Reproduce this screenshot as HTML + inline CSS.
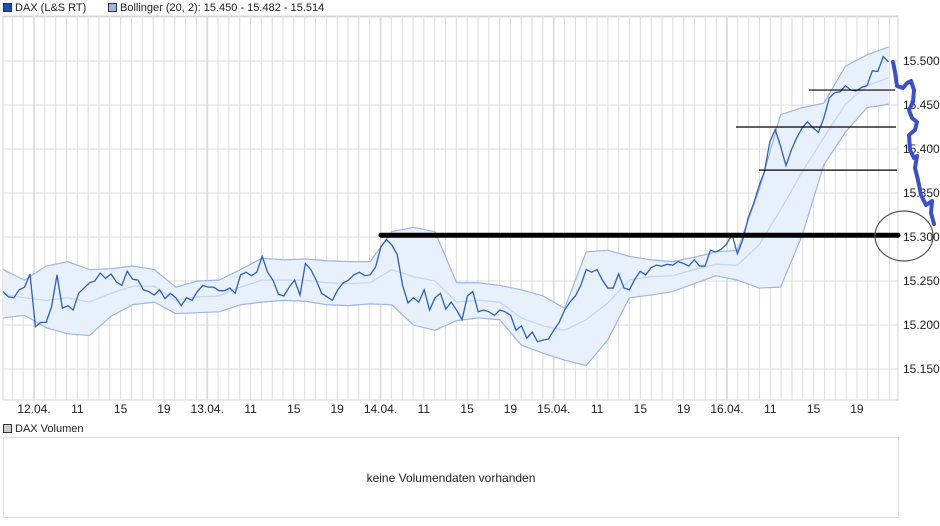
<!DOCTYPE html>
<html><head><meta charset="utf-8"><style>
body{margin:0;background:#fff;font-family:"Liberation Sans",sans-serif;}
svg{display:block}
text{font-family:"Liberation Sans",sans-serif;}
</style></head><body>
<svg id="c" width="940" height="526"></svg>
<script>
const priceValues=[15.238,15.232,15.231,15.240,15.243,15.258,15.198,15.203,15.203,15.221,15.257,15.219,15.222,15.217,15.236,15.242,15.248,15.250,15.259,15.253,15.258,15.249,15.245,15.261,15.252,15.251,15.240,15.238,15.234,15.240,15.230,15.236,15.231,15.222,15.231,15.228,15.238,15.245,15.243,15.243,15.239,15.239,15.242,15.236,15.257,15.260,15.256,15.260,15.278,15.260,15.251,15.235,15.233,15.243,15.251,15.234,15.270,15.263,15.251,15.236,15.232,15.228,15.240,15.248,15.251,15.257,15.260,15.256,15.257,15.266,15.289,15.297,15.291,15.280,15.245,15.225,15.231,15.226,15.240,15.217,15.231,15.236,15.218,15.226,15.217,15.206,15.233,15.238,15.215,15.217,15.215,15.211,15.217,15.215,15.211,15.194,15.199,15.185,15.192,15.181,15.183,15.184,15.194,15.203,15.217,15.226,15.233,15.245,15.263,15.260,15.263,15.251,15.242,15.242,15.258,15.242,15.240,15.252,15.261,15.257,15.265,15.268,15.267,15.269,15.268,15.272,15.270,15.267,15.274,15.267,15.267,15.285,15.283,15.286,15.292,15.303,15.281,15.297,15.322,15.338,15.358,15.374,15.408,15.422,15.403,15.381,15.399,15.413,15.424,15.431,15.424,15.419,15.435,15.458,15.464,15.465,15.472,15.467,15.466,15.470,15.472,15.489,15.488,15.505,15.499];
const bandUpper=[15.263,15.251,15.267,15.272,15.263,15.264,15.267,15.263,15.243,15.250,15.251,15.263,15.276,15.274,15.275,15.273,15.272,15.272,15.306,15.311,15.306,15.248,15.248,15.245,15.240,15.233,15.219,15.283,15.285,15.278,15.274,15.272,15.277,15.283,15.285,15.353,15.439,15.447,15.452,15.494,15.507,15.516];
const bandLower=[15.208,15.211,15.197,15.190,15.188,15.210,15.223,15.226,15.213,15.214,15.215,15.223,15.226,15.228,15.227,15.223,15.222,15.224,15.223,15.200,15.194,15.205,15.208,15.206,15.177,15.168,15.160,15.154,15.183,15.231,15.234,15.238,15.247,15.256,15.251,15.242,15.243,15.302,15.382,15.419,15.447,15.451];
const bandMiddle=[15.235,15.231,15.228,15.231,15.226,15.236,15.244,15.244,15.228,15.232,15.233,15.243,15.251,15.251,15.251,15.248,15.247,15.248,15.263,15.255,15.250,15.226,15.228,15.226,15.208,15.199,15.194,15.206,15.225,15.251,15.255,15.256,15.263,15.269,15.268,15.291,15.331,15.374,15.413,15.451,15.472,15.481];
const yTicks=[15.5,15.45,15.4,15.35,15.3,15.25,15.2,15.15];
const yTickLabels=["15.500","15.450","15.400","15.350","15.300","15.250","15.200","15.150"];
const dayLabels=["12.04.","13.04.","14.04.","15.04.","16.04."];
const hourLabels=["11","15","19"];
const supportLevel=15.302;
const resistanceLines=[[15.467,809,895],[15.425,736,896],[15.376,759,897]];

const NS="http://www.w3.org/2000/svg";
const svg=document.getElementById('c');
function el(t,a,p){const e=document.createElementNS(NS,t);for(const k in a)e.setAttribute(k,a[k]);(p||svg).appendChild(e);return e;}
const L=3,R=898,T=16,B=400;
function y(v){return 61+(15.5-v)/0.05*44;}
function xp(i){return 3+i*5.4;}
function xb(k){return 3+k*21.6;}
const grid=el('g',{});


el('rect',{x:L,y:T,width:R-L,height:B-T,fill:'#fff',stroke:'#d4d4d4'},grid);
for(let k=-3;k<83;k++){const x=34+k*173.25/16;if(x<=L||x>=R)continue;
 el('line',{x1:x,x2:x,y1:T,y2:B,stroke:'#dcdcdc','stroke-width':(k%16===0)?1.8:1},grid);}
for(let v=15.55;v>15.1;v-=0.05){const yy=y(v);if(yy<=T||yy>=B)continue;
 el('line',{x1:L,x2:R,y1:yy,y2:yy,stroke:'#dcdcdc'},grid);}
let up=bandUpper.map((v,k)=>xb(k)+','+y(v)).join(' ');
let lo=bandLower.map((v,k)=>xb(k)+','+y(v)).reverse().join(' ');
const band=el('polygon',{points:up+' '+lo,fill:'#e8f0fc',stroke:'none'});


const bu=el('polyline',{points:up,fill:'none',stroke:'#9db4e8','stroke-width':1.2});


const bl=el('polyline',{points:bandLower.map((v,k)=>xb(k)+','+y(v)).join(' '),fill:'none',stroke:'#9db4e8','stroke-width':1.2});


const bm=el('polyline',{points:bandMiddle.map((v,k)=>xb(k)+','+y(v)).join(' '),fill:'none',stroke:'#c3d5f5','stroke-width':1.3});


const pl=el('polyline',{points:priceValues.map((v,i)=>xp(i)+','+y(v)).join(' '),fill:'none',stroke:'#2a5fc4','stroke-width':1.3});


const sup=el('line',{x1:381,x2:898,y1:y(supportLevel),y2:y(supportLevel),stroke:'#000','stroke-width':5,'stroke-linecap':'round'});


resistanceLines.forEach(r=>{const ln=el('line',{x1:r[1],x2:r[2],y1:y(r[0]),y2:y(r[0]),stroke:'#000','stroke-width':1.2});

});
yTicks.forEach((v,i)=>{const t=el('text',{x:903,y:y(v)+4,'font-size':12,fill:'#222'});t.textContent=yTickLabels[i];

});
const circ=el('ellipse',{cx:904,cy:236,rx:29,ry:25,fill:'none',stroke:'#555','stroke-width':1.2});


const scr=el('polyline',{points:'893,62 895,72 897,86 903,88 907,83 911,81 914,90 913,102 909,110 912,118 917,122 915,130 909,135 910,150 914,158 917,156 915,168 918,180 921,195 926,205 932,201 931,213 934,224',fill:'none',stroke:'#3a4ed0','stroke-width':4,'stroke-linejoin':'round','stroke-linecap':'round'});


dayLabels.forEach((d,i)=>{const x0=34+i*173.25;
 const t=el('text',{x:x0,y:413,'font-size':12,fill:'#222','text-anchor':'middle'});t.textContent=d;
 
 
 hourLabels.forEach((h,j)=>{const th=el('text',{x:x0+43.3*(j+1),y:413,'font-size':12,fill:'#222','text-anchor':'middle'});th.textContent=h;
 
 });});
function sq(x,yy,f,s){el('rect',{x:x,y:yy,width:8,height:8,fill:f,stroke:s});}
sq(3.5,3.5,'#1f4fb0','#333');
const l1=el('text',{x:15,y:11,'font-size':11,fill:'#222'});l1.textContent='DAX (L&S RT)';


sq(108.5,3.5,'#9db4e8','#333');
const l2=el('text',{x:120,y:11,'font-size':11,fill:'#222'});l2.textContent='Bollinger (20, 2): 15.450 - 15.482 - 15.514';


sq(3.5,424.5,'#ccc','#333');
const l3=el('text',{x:15,y:432,'font-size':11,fill:'#222'});l3.textContent='DAX Volumen';


const vb=el('rect',{x:3.5,y:437.5,width:895,height:80,fill:'#fff',stroke:'#ddd'});


const vt=el('text',{x:451,y:482,'font-size':12,fill:'#222','text-anchor':'middle'});vt.textContent='keine Volumendaten vorhanden';


</script>
</body></html>
